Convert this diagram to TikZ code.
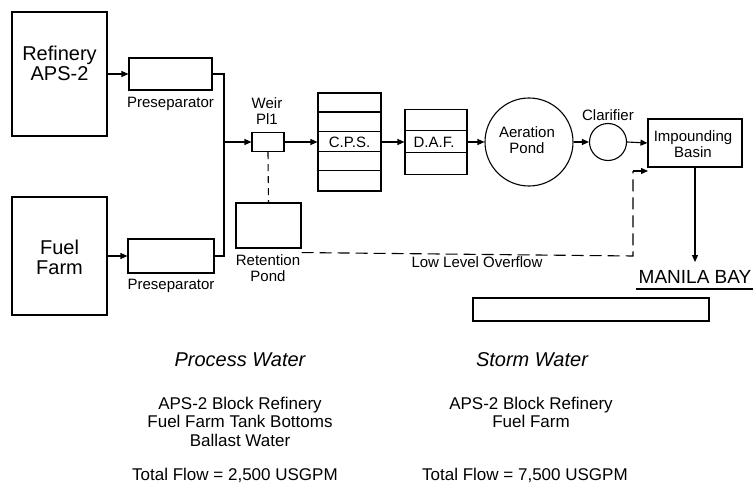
\documentclass[tikz,border=0pt]{standalone}
\usepackage{fontspec}
\setmainfont{Liberation Sans}
\usetikzlibrary{arrows.meta,calc}
\begin{document}
\begin{tikzpicture}[x=1pt,y=-1pt,
  unit/.style={draw, line width=1.1pt, inner sep=0pt, rectangle},
  tank/.style={draw, line width=1.1pt, inner sep=0pt, circle},
  lbl/.style={font=\fontsize{15}{16}\selectfont, inner sep=0pt, align=center},
  biglbl/.style={font=\fontsize{20}{20}\selectfont, inner sep=0pt, align=center},
  note/.style={font=\fontsize{17}{18.5}\selectfont, inner sep=0pt, align=center},
  head/.style={font=\fontsize{20}{20}\selectfont\itshape, inner sep=0pt},
  link/.style={line width=1.1pt},
  flow/.style={line width=1.1pt, -{Triangle[length=7pt,width=6pt]}},
  overflow/.style={line width=1.1pt, dash pattern=on 12pt off 6pt},
  tap/.style={line width=1.1pt, dash pattern=on 7pt off 5pt}]
\useasboundingbox (0,0) rectangle (753,487);
\fill[white] (0,0) rectangle (753,487);

% sources
\node[unit, minimum width=95pt, minimum height=124pt] (ref) at (59.5,74) {};
\node[biglbl] (reftxt) at (59.5,63) {Refinery\\APS-2};
\node[unit, minimum width=95pt, minimum height=118pt] (fuel) at (59.5,256) {};
\node[biglbl] (fueltxt) at (59.5,257) {Fuel\\Farm};

% preseparators
\node[unit, minimum width=83pt, minimum height=32pt] (pre1) at (170.5,74) {};
\node[lbl] (pre1l) at (170.5,104) {Preseparator};
\node[unit, minimum width=86pt, minimum height=34pt] (pre2) at (171,256) {};
\node[lbl] (pre2l) at (171,286) {Preseparator};

\coordinate (jn) at (224,142);

% weir
\node[unit, minimum width=32pt, minimum height=19pt] (weir) at (268,142) {};
\node[lbl] (weirl) at (267,111) {Weir\\Pl1};

% retention pond
\node[unit, minimum width=65pt, minimum height=45pt] (pond) at (268.5,225.5) {};
\node[lbl] (pondl) at (268,268.5) {Retention\\Pond};

% CPS
\node[unit, minimum width=63pt, minimum height=98pt] (cps) at (349.5,142) {};
\foreach \k in {1,...,4}
  \draw[link] ($(cps.north west)+(0,19.6*\k)$) -- ($(cps.north east)+(0,19.6*\k)$);
\node[lbl] (cpsl) at (349.5,142) {C.P.S.};

% DAF
\node[unit, minimum width=62pt, minimum height=65pt] (daf) at (436,142) {};
\foreach \k in {1,2}
  \draw[link] ($(daf.north west)+(0,21.7*\k)$) -- ($(daf.north east)+(0,21.7*\k)$);
\node[lbl] (dafl) at (434,142) {D.A.F.};

% aeration pond
\node[tank, minimum size=88pt] (aer) at (529,142) {};
\node[lbl] (aerl) at (527,140) {Aeration\\Pond};

% clarifier
\node[tank, minimum size=37pt] (clar) at (608,142) {};
\node[lbl] (clarl) at (608,115) {Clarifier};

% impounding basin
\node[unit, minimum width=94pt, minimum height=48pt] (imp) at (695,143) {};
\node[lbl] (impl) at (693,144.5) {Impounding\\Basin};

% Manila Bay
\node[font=\fontsize{19}{19}\selectfont, inner sep=0pt] (bay) at (695,277) {MANILA BAY};
\coordinate (ul1) at (636,289);
\coordinate (ul2) at (753,289);
\draw[line width=1.1pt] (ul1) -- (ul2);
\coordinate (baytip) at (695,262);

\node[unit, minimum width=236pt, minimum height=23pt] (blank) at (591,309.5) {};

% main flow
\draw[flow] (ref.east |- pre1.west) -- (pre1.west);
\draw[flow] (fuel.east |- pre2.west) -- (pre2.west);
\draw[link] (pre1.east) -| (jn);
\draw[link] (pre2.east) -| (jn);
\draw[flow] (jn) -- (weir.west);
\draw[flow] (weir.east) -- (cps.west);
\draw[flow] (cps.east) -- (daf.west);
\draw[flow] (daf.east) -- (aer.west);
\draw[flow] (aer.east) -- (clar.west);
\draw[flow] (clar.east) -- (imp.west);
\draw[flow] (imp.south) -- (baytip);

% overflow
\draw[tap] (weir.south) -- (pond.north);
\coordinate (ovs) at ($(pond.south east)+(0,4)$);
\coordinate (ovc) at (633,256);
\coordinate (ovt) at (633,171);
\coordinate (ovend) at (648,171);
\draw[overflow] (ovs) -- (ovc) -- (ovt);
\draw[flow] (ovt) -- (ovend);
\node[lbl] (ovl) at (477,262) {Low Level Overflow};

% legend texts
\node[head] (pw) at (240,360) {Process Water};
\node[head] (sw) at (532,360) {Storm Water};
\node[note] (pwt) at (240,421.5) {APS-2 Block Refinery\\Fuel Farm Tank Bottoms\\Ballast Water};
\node[note] (swt) at (531,412.5) {APS-2 Block Refinery\\Fuel Farm};
\node[note, anchor=west] (pwf) at (132,475) {Total Flow = 2,500 USGPM};
\node[note, anchor=west] (swf) at (422,475) {Total Flow = 7,500 USGPM};
\end{tikzpicture}
\end{document}
